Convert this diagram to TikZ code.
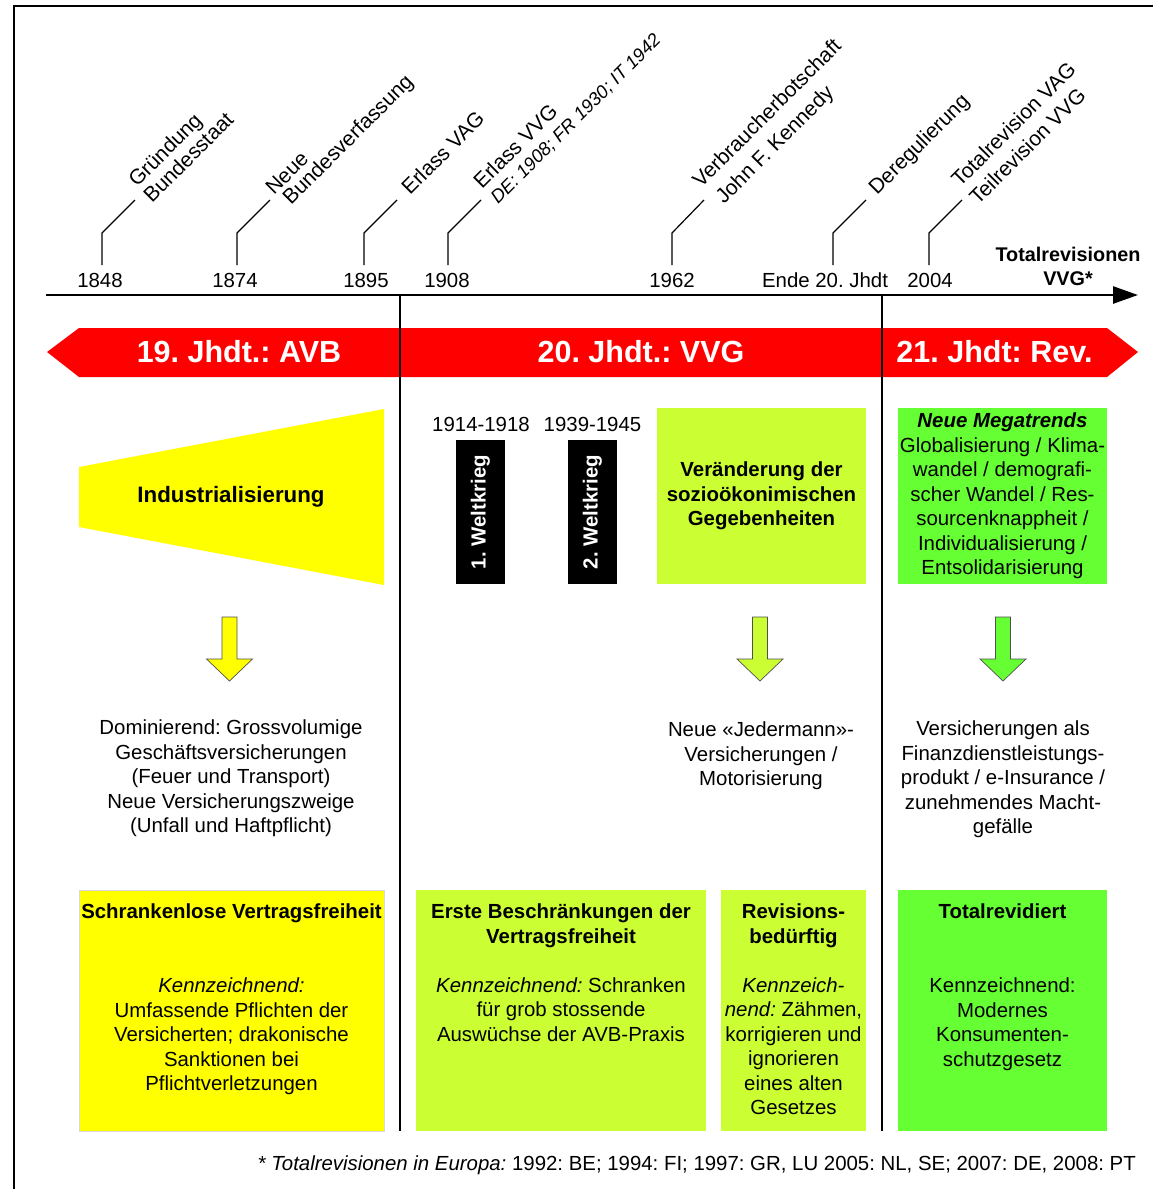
\documentclass[tikz,border=0pt]{standalone}
\usepackage{fontspec}
\setmainfont{Liberation Sans}
\usetikzlibrary{arrows.meta}
\definecolor{cYel}{HTML}{FFFF00}
\definecolor{cLime}{HTML}{CCFF33}
\definecolor{cGreen}{HTML}{66FF33}
\definecolor{cRed}{HTML}{FF0000}
\definecolor{cOut}{HTML}{505050}
\frenchspacing
\begin{document}
\begin{tikzpicture}[x=1pt,y=-1pt,
  every node/.style={inner sep=0pt},
  f/.style={font=\fontsize{20.4}{24.5}\selectfont},
  txt/.style={f, align=center},
  yr/.style={f, anchor=base},
  lab/.style={font=\fontsize{21}{24}\selectfont, rotate=45, anchor=base west},
  labsm/.style={font=\fontsize{18.5}{22}\selectfont\itshape, rotate=45, anchor=base west},
  tick/.style={line width=1.2pt},
  bandtxt/.style={font=\fontsize{30.5}{32}\selectfont\bfseries, text=white, anchor=base},
  divider/.style={line width=1.7pt},
  pics/downarrow/.style={code={
    \draw[fill=#1, draw=cOut, line width=0.7pt]
      (-7.5,0) -- (7.5,0) -- (7.5,42) -- (23,42) -- (0,64) -- (-23,42) -- (-7.5,42) -- cycle;}}
]
\useasboundingbox (0,0) rectangle (1153,1189);
% frame
\draw[line width=2pt] (14,1189) -- (14,6) -- (1153,6);

% timeline
\coordinate (tlA) at (46,295);
\coordinate (tlB) at (1138,295);
\draw[line width=2.6pt, -{Triangle[length=25pt,width=17pt]}] (tlA) -- (tlB);

% years
\node[yr] (y1848) at (100,287) {1848};
\node[yr] (y1874) at (235,287) {1874};
\node[yr] (y1895) at (366,287) {1895};
\node[yr] (y1908) at (447,287) {1908};
\node[yr] (y1962) at (672,287) {1962};
\node[yr] (yende) at (825,287) {Ende 20. Jhdt};
\node[yr] (y2004) at (930,287) {2004};
\node[f, font=\fontsize{19.8}{24}\selectfont\bfseries, align=center, anchor=north] (trv) at (1068,247) {Totalrevisionen\\VVG*};

% ticks
\draw[tick] (102,265) -- (102,233) -- (135,200);
\draw[tick] (237,265) -- (237,233) -- (270,200);
\draw[tick] (364,265) -- (364,233) -- (397,200);
\draw[tick] (448,265) -- (448,233) -- (481,200);
\draw[tick] (672,265) -- (672,233) -- (704,200);
\draw[tick] (833,265) -- (833,233) -- (866,200);
\draw[tick] (929,265) -- (929,233) -- (962,200);

% rotated labels
\node[lab] (l1a) at (137,188) {Gründung};
\node[lab] (l1b) at (152,204) {Bundesstaat};
\node[lab] (l2a) at (274,196) {Neue};
\node[lab] (l2b) at (291,206) {Bundesverfassung};
\node[lab] (l3) at (410,196) {Erlass VAG};
\node[lab] (l4a) at (482,190) {Erlass VVG};
\node[labsm] (l4b) at (498,205) {DE: 1908; FR 1930; IT 1942};
\node[lab] (l5a) at (701,189) {Verbraucherbotschaft};
\node[lab] (l5b) at (724,205) {John F. Kennedy};
\node[lab] (l6) at (877,196) {Deregulierung};
\node[lab] (l7a) at (960,188) {Totalrevision VAG};
\node[lab] (l7b) at (978,206) {Teilrevision VVG};

% red band
\fill[cRed] (47,352) -- (79,328) -- (1107,328) -- (1138,352) -- (1107,377) -- (79,377) -- cycle;
\node[bandtxt] (b19) at (239,362) {19. Jhdt.: AVB};
\node[bandtxt] (b20) at (641,362) {20. Jhdt.: VVG};
\node[bandtxt] (b21) at (994.5,362) {21. Jhdt: Rev.};

% dividers
\draw[divider] (400,295) -- (400,1131);
\draw[divider] (882,295) -- (882,1131);

% Industrialisierung
\fill[cYel] (79,467) -- (384,409) -- (384,585) -- (79,527) -- cycle;
\node[font=\fontsize{22.3}{24}\selectfont\bfseries] (ind) at (231,497) {Industrialisierung};

% world wars
\node[yr] (ww1y) at (481,431) {1914-1918};
\node[yr] (ww2y) at (592.5,431) {1939-1945};
\node[fill=black, text=white, rotate=90, minimum width=144pt, minimum height=49pt, font=\fontsize{20.4}{24}\selectfont\bfseries] (ww1) at (480.5,512) {1. Weltkrieg};
\node[fill=black, text=white, rotate=90, minimum width=144pt, minimum height=49pt, font=\fontsize{20.4}{24}\selectfont\bfseries] (ww2) at (592.5,512) {2. Weltkrieg};

% socio-economic box
\node[fill=cLime, minimum width=209pt, minimum height=176pt, font=\fontsize{20.4}{24.5}\selectfont\bfseries, align=center] (soz) at (761.5,496) {Veränderung der\\sozioökonimischen\\Gegebenheiten};

% megatrends box
\node[fill=cGreen, minimum width=209pt, minimum height=176pt, txt] (mega) at (1002.5,496) {\textbf{\textit{Neue Megatrends}}\\Globalisierung / Klima-\\wandel / demografi-\\scher Wandel / Res-\\sourcenknappheit /\\Individualisierung /\\Entsolidarisierung};

% arrows
\pic at (229.5,617) {downarrow=cYel};
\pic at (760,617) {downarrow=cLime};
\pic at (1003,617) {downarrow=cGreen};

% consequence texts
\node[txt, anchor=north] (c1) at (231,719.7) {Dominierend: Grossvolumige\\Geschäftsversicherungen\\(Feuer und Transport)\\Neue Versicherungszweige\\(Unfall und Haftpflicht)};
\node[txt, anchor=north] (c2) at (761,721.7) {Neue «Jedermann»-\\Versicherungen /\\Motorisierung};
\node[txt, anchor=north] (c3) at (1003,720.7) {Versicherungen als\\Finanzdienstleistungs-\\produkt / e-Insurance /\\zunehmendes Macht-\\gefälle};

% bottom boxes
\node[fill=cYel, draw=black!15, line width=1pt, minimum width=305pt, minimum height=241pt] (bA) at (231.5,1010.5) {};
\node[fill=cLime, minimum width=290pt, minimum height=241pt] (bB) at (561,1010.5) {};
\node[fill=cLime, minimum width=145pt, minimum height=241pt] (bC) at (793.5,1010.5) {};
\node[fill=cGreen, minimum width=209pt, minimum height=241pt] (bD) at (1002.5,1010.5) {};

\node[txt, anchor=north] (tA) at (231.5,903.7) {\textbf{Schrankenlose Vertragsfreiheit}\\[49.5pt]\textit{Kennzeichnend:}\\Umfassende Pflichten der\\Versicherten; drakonische\\Sanktionen bei\\Pflichtverletzungen};
\node[txt, anchor=north] (tB) at (561,903.7) {\textbf{Erste Beschränkungen der}\\\textbf{Vertragsfreiheit}\\[24.5pt]\textit{Kennzeichnend:} Schranken\\für grob stossende\\Auswüchse der AVB-Praxis};
\node[txt, anchor=north] (tC) at (793.5,903.7) {\textbf{Revisions-}\\\textbf{bedürftig}\\[24.5pt]\textit{Kennzeich-}\\\textit{nend:} Zähmen,\\korrigieren und\\ignorieren\\eines alten\\Gesetzes};
\node[txt, anchor=north] (tD) at (1002.5,903.7) {\textbf{Totalrevidiert}\\[49.5pt]Kennzeichnend:\\Modernes\\Konsumenten-\\schutzgesetz};

% footnote
\node[f, anchor=base east] (foot) at (1136,1170) {\textit{* Totalrevisionen in Europa:} 1992: BE; 1994: FI; 1997: GR, LU 2005: NL, SE; 2007: DE, 2008: PT};
\end{tikzpicture}
\end{document}
